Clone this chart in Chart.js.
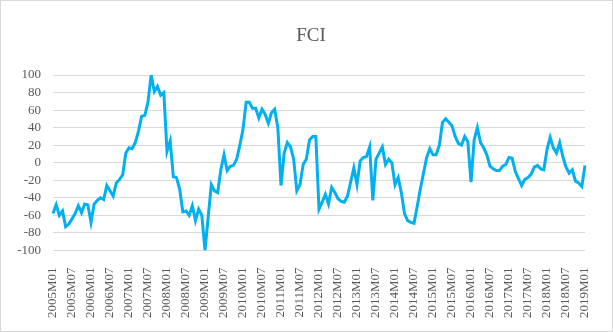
<!DOCTYPE html>
<html>
<head>
<meta charset="utf-8">
<script src="https://cdn.jsdelivr.net/npm/chart.js@4.4.1/dist/chart.umd.min.js"></script>
<style>
  html, body { margin: 0; padding: 0; background: #fff; }
  #fci-chart { display: block; }
</style>
</head>
<body>
<canvas id="fci-chart" width="613" height="332"></canvas>
<script>
// monthly FCI, 2005M01 .. 2019M01 (one row per year)
const fciValues = [
  -58, -48, -60, -55, -73, -70, -64, -58, -49, -57, -47, -48,
  -68, -47, -43, -40, -42, -26, -32, -38, -23, -19, -14, 11,
  17, 16, 23, 36, 53, 54, 69, 100, 81, 87, 77, 80,
  13, 25, -16, -17, -30, -56, -55, -60, -49, -66, -53, -60,
  -100, -62, -25, -32, -34, -8, 9, -9, -4, -3, 4, 20,
  38, 69, 69, 62, 62, 51, 61, 55, 45, 57, 61, 40,
  -26, 11, 23, 18, 4, -32, -25, -2, 4, 26, 30, 30,
  -53, -45, -36, -47, -28, -34, -41, -44, -45, -38, -22, -6,
  -25, 2, 6, 7, 18, -43, 4, 11, 18, -2, 4, 0,
  -25, -17, -34, -58, -66, -68, -69, -50, -30, -12, 6, 16,
  9, 9, 20, 46, 50, 46, 42, 30, 22, 20, 30, 24,
  -22, 26, 40, 23, 17, 9, -4, -7, -9, -9, -4, -2,
  6, 5, -10, -18, -26, -19, -17, -13, -5, -3, -7, -8,
  15, 29, 17, 11, 23, 7, -5, -12, -8, -21, -23, -27,
  -3
];

const firstYear = 2005;
const labelEvery = 6;
const yMin = -100, yMax = 100, yStep = 20;

// category labels like 2005M01
const months = fciValues.map((v, i) => {
  const y = firstYear + Math.floor(i / 12);
  const m = (i % 12) + 1;
  return y + 'M' + String(m).padStart(2, '0');
});

const textColor = '#595959';
const serif = "'Liberation Serif', 'Times New Roman', serif";

// chart title + outer border like the Excel chart area
const decor = {
  id: 'decor',
  beforeDraw(chart) {
    const c = chart.ctx;
    c.save();
    c.fillStyle = '#fff';
    c.fillRect(0, 0, chart.width, chart.height);
    c.restore();
  },
  afterDraw(chart) {
    const c = chart.ctx;
    c.save();
    c.strokeStyle = '#d9d9d9';
    c.lineWidth = 1;
    c.strokeRect(0.5, 0.5, chart.width - 1, chart.height - 1);
    c.fillStyle = textColor;
    c.font = '19px ' + serif;
    c.textAlign = 'center';
    c.textBaseline = 'middle';
    c.fillText('FCI', 311, 36);
    c.restore();
  }
};

new Chart(document.getElementById('fci-chart').getContext('2d'), {
  type: 'line',
  data: {
    labels: months,
    datasets: [{
      label: 'FCI',
      data: fciValues,
      borderColor: '#00b0f0',
      borderWidth: 3,
      pointRadius: 0,
      tension: 0,
      fill: false
    }]
  },
  options: {
    responsive: false,
    animation: false,
    layout: { padding: { top: 75, right: 28, left: 0, bottom: 5 } },
    plugins: { legend: { display: false }, tooltip: { enabled: false } },
    scales: {
      x: {
        grid: { display: false },
        border: { display: false },
        ticks: {
          autoSkip: false,
          minRotation: 90,
          maxRotation: 90,
          padding: 9,
          color: textColor,
          font: { family: serif, size: 13 },
          callback: (v, i) => (i % labelEvery === 0 ? months[i] : '')
        }
      },
      y: {
        min: yMin,
        max: yMax,
        afterFit: s => { s.width = 53; },
        grid: { color: '#d9d9d9', lineWidth: 1, drawTicks: false },
        border: { display: false },
        ticks: {
          stepSize: yStep,
          autoSkip: false,
          padding: 12,
          color: textColor,
          font: { family: serif, size: 13 }
        }
      }
    }
  },
  plugins: [decor]
});
</script>
</body>
</html>
